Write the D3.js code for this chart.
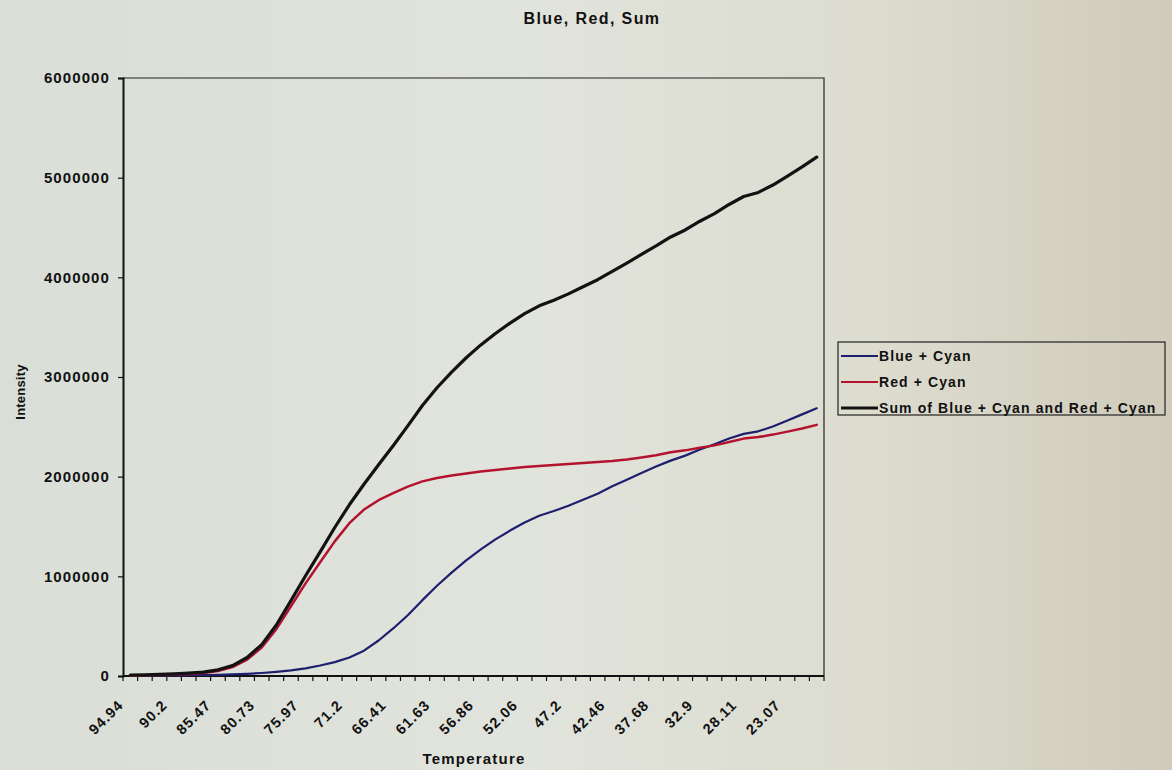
<!DOCTYPE html>
<html>
<head>
<meta charset="utf-8">
<script src="https://cdn.jsdelivr.net/npm/d3@7/dist/d3.min.js"></script>
<style>
  html, body { margin: 0; padding: 0; }
  body { width: 1172px; height: 770px; overflow: hidden; }
  svg text { font-family: "Liberation Sans", Arial, sans-serif; font-weight: bold; fill: #111; }
</style>
</head>
<body>
<svg id="chart" width="1172" height="770"></svg>
<script>
// Temperature categories (descending), one per measurement
const temperatures = [
  94.94, 93.36, 91.78, 90.2, 88.62, 87.05, 85.47, 83.89, 82.31, 80.73,
  79.14, 77.56, 75.97, 74.38, 72.79, 71.2, 69.6, 68.01, 66.41, 64.82,
  63.22, 61.63, 60.04, 58.45, 56.86, 55.26, 53.66, 52.06, 50.44, 48.82,
  47.2, 45.62, 44.04, 42.46, 40.87, 39.27, 37.68, 36.09, 34.49, 32.9,
  31.3, 29.71, 28.11, 26.43, 24.75, 23.07, 21.5, 19.9
];

// Intensity of each series at every temperature
const blueCyan = [
  4000, 4400, 5500, 6500, 7500, 8900, 11600, 15400, 21600, 30000,
  41500, 56000, 77000, 105000, 139000, 185000, 254000, 356000, 477000, 610000,
  761000, 905000, 1037000, 1161000, 1270000, 1371000, 1459000, 1540000, 1608000, 1655000,
  1708000, 1769000, 1829000, 1903000, 1970000, 2037000, 2101000, 2161000, 2211000, 2272000,
  2326000, 2383000, 2429000, 2455000, 2504000, 2564000, 2625000, 2686000
];
const redCyan = [
  6000, 7300, 10700, 14300, 20700, 29700, 50600, 89000, 164000, 285000,
  470000, 700000, 929000, 1141000, 1351000, 1533000, 1670000, 1764000, 1834000, 1900000,
  1953000, 1987000, 2012000, 2032000, 2052000, 2066000, 2082000, 2096000, 2106000, 2116000,
  2126000, 2137000, 2147000, 2157000, 2173000, 2193000, 2214000, 2244000, 2264000, 2291000,
  2314000, 2348000, 2382000, 2397000, 2422000, 2452000, 2483000, 2520000
];
const sumBlueRed = [
  10000, 11700, 16200, 20800, 28200, 38600, 62200, 104400, 185600, 315000,
  511500, 756000, 1006000, 1246000, 1490000, 1718000, 1924000, 2120000, 2311000, 2510000,
  2714000, 2892000, 3049000, 3193000, 3322000, 3437000, 3541000, 3636000, 3714000, 3771000,
  3834000, 3906000, 3976000, 4060000, 4143000, 4230000, 4315000, 4405000, 4475000, 4563000,
  4640000, 4731000, 4811000, 4852000, 4926000, 5016000, 5108000, 5206000
];

const seriesNames = ["Blue + Cyan", "Red + Cyan", "Sum of Blue + Cyan and Red + Cyan"];
const seriesColors = ["#1d1f6e", "#b3132f", "#121212"];
const seriesWidths = [2.2, 2.5, 3.2];
const yTicks = [0, 1000000, 2000000, 3000000, 4000000, 5000000, 6000000];
const labelEvery = 3;

const svg = d3.select("#chart");

// Paper-like backdrop
const defs = svg.append("defs");
const bg = defs.append("linearGradient").attr("id", "bg").attr("x1", 0).attr("x2", 1).attr("y1", 0).attr("y2", 0);
bg.append("stop").attr("offset", "0%").attr("stop-color", "#d9ded6");
bg.append("stop").attr("offset", "45%").attr("stop-color", "#e1e4dc");
bg.append("stop").attr("offset", "75%").attr("stop-color", "#dcdccf");
bg.append("stop").attr("offset", "100%").attr("stop-color", "#d0cbbb");
svg.append("rect").attr("width", 1172).attr("height", 770).attr("fill", "url(#bg)");

const plot = { left: 123, right: 824, top: 78, bottom: 676 };

// Categories sit between tick marks
const x = d3.scaleBand()
  .domain(temperatures.map(String))
  .range([plot.left, plot.right])
  .paddingInner(0).paddingOuter(0);
const cx = d => x(String(d)) + x.bandwidth() / 2;

const y = d3.scaleLinear()
  .domain([0, 6000000])
  .range([plot.bottom, plot.top]);

// Plot-area frame (top and right edges)
svg.append("path")
  .attr("d", `M${plot.left},${plot.top}H${plot.right}V${plot.bottom}`)
  .attr("fill", "none").attr("stroke", "#222").attr("stroke-width", 1.2);

// Y axis
const yAxis = svg.append("g")
  .attr("transform", `translate(${plot.left},0)`)
  .call(d3.axisLeft(y).tickValues(yTicks).tickSize(5).tickPadding(8).tickFormat(d3.format("d")));
yAxis.select(".domain").attr("stroke", "#111").attr("stroke-width", 2);
yAxis.selectAll(".tick line").attr("stroke", "#111").attr("stroke-width", 1.2);
yAxis.selectAll(".tick text")
  .style("font-size", "15px").style("letter-spacing", "1.1px").style("font-weight", "bold")
  .attr("fill", "#111");

// X axis: labels every third category, tick marks on category boundaries
const xAxis = svg.append("g")
  .attr("transform", `translate(0,${plot.bottom})`)
  .call(d3.axisBottom(x)
    .tickSize(0)
    .tickFormat((d, i) => i % labelEvery === 0 ? d : ""));
xAxis.select(".domain").attr("stroke", "#111").attr("stroke-width", 2)
  .attr("d", `M${plot.left},0H${plot.right}`);
xAxis.selectAll(".tick text")
  .attr("x", 0).attr("y", 0).attr("dy", 0)
  .attr("text-anchor", "end")
  .attr("transform", "translate(-6,30) rotate(-45)")
  .style("font-size", "14.5px").style("letter-spacing", "1.1px").style("font-weight", "bold")
  .attr("fill", "#111");
xAxis.append("g").selectAll("line")
  .data(temperatures.map(String).concat([null]))
  .join("line")
  .attr("x1", d => d === null ? plot.right : x(d))
  .attr("x2", d => d === null ? plot.right : x(d))
  .attr("y1", 0).attr("y2", 5)
  .attr("stroke", "#111").attr("stroke-width", 1.2);

// Series lines
const series = [blueCyan, redCyan, sumBlueRed];
const line = d3.line()
  .x((d, i) => cx(temperatures[i]))
  .y(d => y(d));

svg.append("g").selectAll("path")
  .data(series)
  .join("path")
  .attr("d", d => line(d))
  .attr("fill", "none")
  .attr("stroke", (d, i) => seriesColors[i])
  .attr("stroke-width", (d, i) => seriesWidths[i])
  .attr("stroke-linejoin", "round")
  .attr("stroke-linecap", "round");

// Titles
svg.append("text")
  .attr("x", 592).attr("y", 24)
  .attr("text-anchor", "middle")
  .style("font-size", "16px").style("letter-spacing", "1.4px")
  .text("Blue, Red, Sum");

svg.append("text")
  .attr("x", 474).attr("y", 764)
  .attr("text-anchor", "middle")
  .style("font-size", "15px").style("letter-spacing", "1.2px")
  .text("Temperature");

svg.append("text")
  .attr("transform", "translate(25,392) rotate(-90)")
  .attr("text-anchor", "middle")
  .style("font-size", "13px").style("letter-spacing", "0.2px")
  .text("Intensity");

// Legend
const legend = svg.append("g");
legend.append("rect")
  .attr("x", 838).attr("y", 342).attr("width", 327).attr("height", 73)
  .attr("fill", "none").attr("stroke", "#222").attr("stroke-width", 1.2);

const rows = legend.selectAll("g.row")
  .data(seriesNames)
  .join("g")
  .attr("class", "row")
  .attr("transform", (d, i) => `translate(0,${356 + i * 26})`);
rows.append("line")
  .attr("x1", 841).attr("x2", 878).attr("y1", 0).attr("y2", 0)
  .attr("stroke", (d, i) => seriesColors[i])
  .attr("stroke-width", (d, i) => seriesWidths[i] - 0.3);
rows.append("text")
  .attr("x", 879).attr("y", 5)
  .style("font-size", "14px").style("letter-spacing", "1.1px")
  .text(d => d);
</script>
</body>
</html>
